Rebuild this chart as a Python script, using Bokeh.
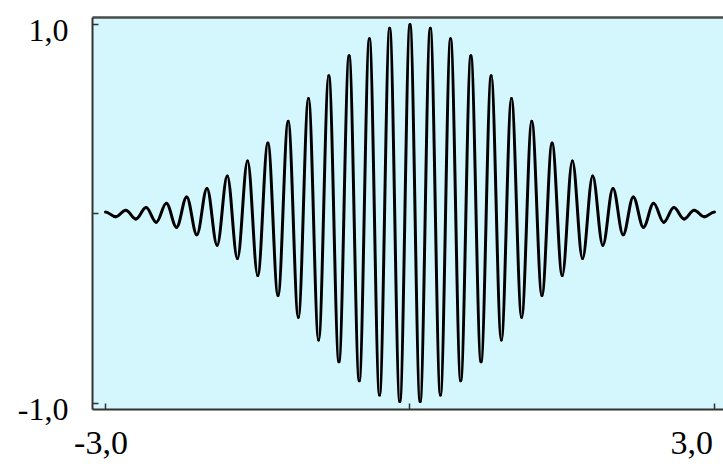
from bokeh.plotting import figure
from bokeh.models import Range1d, LinearAxis, FixedTicker, ColumnDataSource, CustomJSTickFormatter
from bokeh.embed import file_html
from bokeh.resources import INLINE

# Extrema of the wave (right half, mirrored for the left half)
x_half = [0.0, 0.1, 0.2, 0.3, 0.4, 0.5, 0.6, 0.7, 0.8, 0.9, 1.0,
          1.1, 1.2, 1.3, 1.4, 1.5, 1.6, 1.7, 1.8, 1.9, 2.0,
          2.1, 2.2, 2.3, 2.4, 2.5, 2.6, 2.7, 2.8, 2.9, 3.0]
amp_half = [1.00, 0.99, 0.98, 0.955, 0.925, 0.88, 0.835, 0.78, 0.73, 0.665, 0.61,
            0.545, 0.49, 0.43, 0.375, 0.325, 0.28, 0.235, 0.20, 0.165, 0.135,
            0.11, 0.09, 0.07, 0.056, 0.044, 0.034, 0.026, 0.02, 0.015, 0.011]

x_ticks = [-3.0, 0.0, 3.0]
y_ticks = [-1.0, 0.0, 1.0]
x_label_txt = ["-3,0", "3,0"]
y_label_txt = ["1,0", "-1,0"]
# where the tick labels sit (they are not centred on their ticks in the reference)
x_label_pos = [-3.044, 2.775]
y_label_pos = [0.968, -1.032]

x_start, x_end = -3.128, 3.089
y_start, y_end = -1.032, 1.037

xs = [-v for v in reversed(x_half[1:])] + x_half
amps = list(reversed(amp_half[1:])) + amp_half
ys = [a if round(x * 10) % 2 == 0 else -a for x, a in zip(xs, amps)]

c = 0.36
x0 = xs[:-1]; x1 = xs[1:]; y0 = ys[:-1]; y1 = ys[1:]
src = ColumnDataSource(dict(
    x0=x0, y0=y0, x1=x1, y1=y1,
    cx0=[a + c * (b - a) for a, b in zip(x0, x1)], cy0=y0,
    cx1=[b - c * (b - a) for a, b in zip(x0, x1)], cy1=y1,
))

p = figure(width=723, height=464, x_range=Range1d(x_start, x_end), y_range=Range1d(y_start, y_end),
           output_backend="svg", toolbar_location=None,
           x_axis_location=None, y_axis_location=None,
           min_border_left=92, min_border_right=0, min_border_top=17, min_border_bottom=55)
p.outline_line_color = None
p.xgrid.visible = False
p.ygrid.visible = False
p.background_fill_color = "#d4f6fd"
p.border_fill_color = "white"

blank = CustomJSTickFormatter(code="return ''")
axis_color = "#333333"
font = "Liberation Serif"


def label_formatter(pos, txt):
    return CustomJSTickFormatter(args=dict(pos=pos, txt=txt), code="""
        let best = 0, d = 1e9;
        for (let j = 0; j < pos.length; j++) {
            const e = Math.abs(tick - pos[j]);
            if (e < d) { d = e; best = j; }
        }
        return txt[best];
    """)


def tick_axis(ticks, width):
    return LinearAxis(ticker=FixedTicker(ticks=ticks), formatter=blank,
                      major_tick_in=6, major_tick_out=0, minor_tick_line_color=None,
                      major_label_standoff=0, major_label_text_font_size="0px",
                      axis_line_width=width, axis_line_color=axis_color,
                      major_tick_line_color=axis_color, major_tick_line_width=1.5)


def text_axis(pos, txt, size, standoff):
    return LinearAxis(ticker=FixedTicker(ticks=pos), formatter=label_formatter(pos, txt),
                      major_tick_in=0, major_tick_out=0, minor_tick_line_color=None,
                      axis_line_color=None, major_tick_line_color=None,
                      major_label_standoff=standoff, major_label_text_font=font,
                      major_label_text_font_size=size, major_label_text_color="black")


p.add_layout(tick_axis(y_ticks, 2), "left")
p.add_layout(text_axis(y_label_pos, y_label_txt, "32px", 24), "left")
p.add_layout(tick_axis(x_ticks, 2), "below")
p.add_layout(text_axis(x_label_pos, x_label_txt, "34px", 22), "below")
top = LinearAxis(ticker=FixedTicker(ticks=[]), formatter=blank,
                 major_tick_in=0, major_tick_out=0, minor_tick_line_color=None,
                 major_label_standoff=0, major_label_text_font_size="0px",
                 axis_line_width=2.5, axis_line_color="#4a4a4a")
p.add_layout(top, "above")

p.bezier(x0="x0", y0="y0", x1="x1", y1="y1", cx0="cx0", cy0="cy0", cx1="cx1", cy1="cy1",
         source=src, line_color="black", line_width=3, line_cap="round")

open("out.html", "w").write(file_html(p, INLINE))
